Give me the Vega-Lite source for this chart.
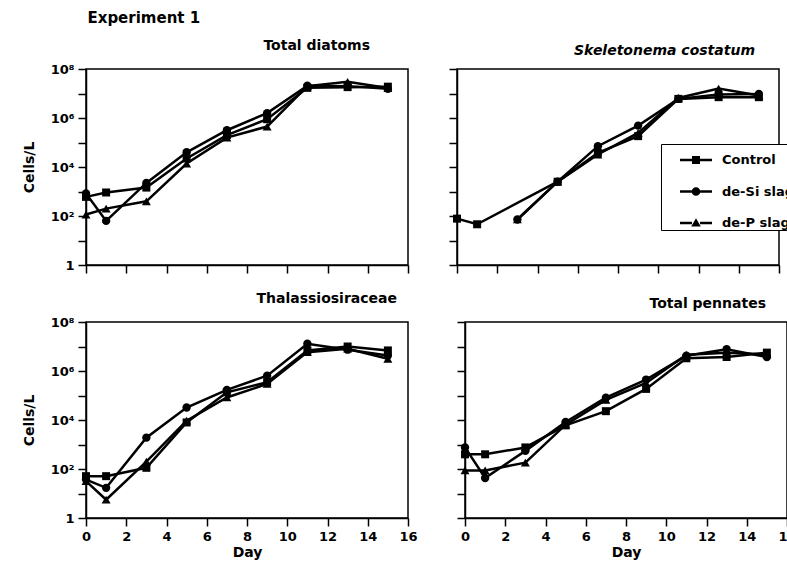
{
  "$schema": "https://vega.github.io/schema/vega-lite/v6.json",
  "background": "white",
  "padding": {"left": 21, "top": 11, "right": 0, "bottom": 0},
  "title": {"text": "Experiment 1", "anchor": "start", "fontSize": 15, "dx": 66, "offset": 12, "frame": "bounds"},
  "datasets": {
    "d": [
      {"p": "TD", "s": "Control", "day": 0, "v": 603},
      {"p": "TD", "s": "Control", "day": 1, "v": 912},
      {"p": "TD", "s": "Control", "day": 3, "v": 1445},
      {"p": "TD", "s": "Control", "day": 5, "v": 22387},
      {"p": "TD", "s": "Control", "day": 7, "v": 199526},
      {"p": "TD", "s": "Control", "day": 9, "v": 891251},
      {"p": "TD", "s": "Control", "day": 11, "v": 1.7e7},
      {"p": "TD", "s": "Control", "day": 13, "v": 1.82e7},
      {"p": "TD", "s": "Control", "day": 15, "v": 1.9e7},
      {"p": "TD", "s": "de-Si slag", "day": 0, "v": 832},
      {"p": "TD", "s": "de-Si slag", "day": 1, "v": 63},
      {"p": "TD", "s": "de-Si slag", "day": 3, "v": 2239},
      {"p": "TD", "s": "de-Si slag", "day": 5, "v": 39811},
      {"p": "TD", "s": "de-Si slag", "day": 7, "v": 316228},
      {"p": "TD", "s": "de-Si slag", "day": 9, "v": 1584893},
      {"p": "TD", "s": "de-Si slag", "day": 11, "v": 2.09e7},
      {"p": "TD", "s": "de-Si slag", "day": 13, "v": 2.0e7},
      {"p": "TD", "s": "de-Si slag", "day": 15, "v": 1.55e7},
      {"p": "TD", "s": "de-P slag", "day": 0, "v": 115},
      {"p": "TD", "s": "de-P slag", "day": 1, "v": 200},
      {"p": "TD", "s": "de-P slag", "day": 3, "v": 398},
      {"p": "TD", "s": "de-P slag", "day": 5, "v": 13804},
      {"p": "TD", "s": "de-P slag", "day": 7, "v": 158489},
      {"p": "TD", "s": "de-P slag", "day": 9, "v": 446684},
      {"p": "TD", "s": "de-P slag", "day": 11, "v": 2.0e7},
      {"p": "TD", "s": "de-P slag", "day": 13, "v": 3.0e7},
      {"p": "TD", "s": "de-P slag", "day": 15, "v": 1.66e7},

      {"p": "SC", "s": "Control", "day": 0, "v": 78},
      {"p": "SC", "s": "Control", "day": 1, "v": 46},
      {"p": "SC", "s": "Control", "day": 5, "v": 2512},
      {"p": "SC", "s": "Control", "day": 7, "v": 38019},
      {"p": "SC", "s": "Control", "day": 9, "v": 181970},
      {"p": "SC", "s": "Control", "day": 11, "v": 6.03e6},
      {"p": "SC", "s": "Control", "day": 13, "v": 7.08e6},
      {"p": "SC", "s": "Control", "day": 15, "v": 7.08e6},
      {"p": "SC", "s": "de-Si slag", "day": 3, "v": 72},
      {"p": "SC", "s": "de-Si slag", "day": 5, "v": 2512},
      {"p": "SC", "s": "de-Si slag", "day": 7, "v": 70795},
      {"p": "SC", "s": "de-Si slag", "day": 9, "v": 489779},
      {"p": "SC", "s": "de-Si slag", "day": 11, "v": 6.03e6},
      {"p": "SC", "s": "de-Si slag", "day": 13, "v": 9.12e6},
      {"p": "SC", "s": "de-Si slag", "day": 15, "v": 9.55e6},
      {"p": "SC", "s": "de-P slag", "day": 3, "v": 72},
      {"p": "SC", "s": "de-P slag", "day": 5, "v": 2512},
      {"p": "SC", "s": "de-P slag", "day": 7, "v": 32359},
      {"p": "SC", "s": "de-P slag", "day": 9, "v": 245471},
      {"p": "SC", "s": "de-P slag", "day": 11, "v": 6.6e6},
      {"p": "SC", "s": "de-P slag", "day": 13, "v": 1.585e7},
      {"p": "SC", "s": "de-P slag", "day": 15, "v": 8.3e6},

      {"p": "TH", "s": "Control", "day": 0, "v": 51},
      {"p": "TH", "s": "Control", "day": 1, "v": 51},
      {"p": "TH", "s": "Control", "day": 3, "v": 112},
      {"p": "TH", "s": "Control", "day": 5, "v": 7943},
      {"p": "TH", "s": "Control", "day": 7, "v": 134896},
      {"p": "TH", "s": "Control", "day": 9, "v": 346737},
      {"p": "TH", "s": "Control", "day": 11, "v": 6.92e6},
      {"p": "TH", "s": "Control", "day": 13, "v": 1.0e7},
      {"p": "TH", "s": "Control", "day": 15, "v": 6.92e6},
      {"p": "TH", "s": "de-Si slag", "day": 0, "v": 37},
      {"p": "TH", "s": "de-Si slag", "day": 1, "v": 17},
      {"p": "TH", "s": "de-Si slag", "day": 3, "v": 1905},
      {"p": "TH", "s": "de-Si slag", "day": 5, "v": 32359},
      {"p": "TH", "s": "de-Si slag", "day": 7, "v": 169824},
      {"p": "TH", "s": "de-Si slag", "day": 9, "v": 645654},
      {"p": "TH", "s": "de-Si slag", "day": 11, "v": 1.29e7},
      {"p": "TH", "s": "de-Si slag", "day": 13, "v": 7.41e6},
      {"p": "TH", "s": "de-Si slag", "day": 15, "v": 4.27e6},
      {"p": "TH", "s": "de-P slag", "day": 0, "v": 32},
      {"p": "TH", "s": "de-P slag", "day": 1, "v": 5.6},
      {"p": "TH", "s": "de-P slag", "day": 3, "v": 200},
      {"p": "TH", "s": "de-P slag", "day": 5, "v": 9333},
      {"p": "TH", "s": "de-P slag", "day": 7, "v": 83176},
      {"p": "TH", "s": "de-P slag", "day": 9, "v": 295121},
      {"p": "TH", "s": "de-P slag", "day": 11, "v": 5.89e6},
      {"p": "TH", "s": "de-P slag", "day": 13, "v": 8.13e6},
      {"p": "TH", "s": "de-P slag", "day": 15, "v": 3.16e6},

      {"p": "TP", "s": "Control", "day": 0, "v": 398},
      {"p": "TP", "s": "Control", "day": 1, "v": 398},
      {"p": "TP", "s": "Control", "day": 3, "v": 759},
      {"p": "TP", "s": "Control", "day": 5, "v": 6026},
      {"p": "TP", "s": "Control", "day": 7, "v": 22909},
      {"p": "TP", "s": "Control", "day": 9, "v": 186209},
      {"p": "TP", "s": "Control", "day": 11, "v": 3.31e6},
      {"p": "TP", "s": "Control", "day": 13, "v": 3.72e6},
      {"p": "TP", "s": "Control", "day": 15, "v": 5.62e6},
      {"p": "TP", "s": "de-Si slag", "day": 0, "v": 759},
      {"p": "TP", "s": "de-Si slag", "day": 1, "v": 43},
      {"p": "TP", "s": "de-Si slag", "day": 3, "v": 550},
      {"p": "TP", "s": "de-Si slag", "day": 5, "v": 8318},
      {"p": "TP", "s": "de-Si slag", "day": 7, "v": 81283},
      {"p": "TP", "s": "de-Si slag", "day": 9, "v": 446684},
      {"p": "TP", "s": "de-Si slag", "day": 11, "v": 4.17e6},
      {"p": "TP", "s": "de-Si slag", "day": 13, "v": 7.76e6},
      {"p": "TP", "s": "de-Si slag", "day": 15, "v": 3.72e6},
      {"p": "TP", "s": "de-P slag", "day": 0, "v": 87},
      {"p": "TP", "s": "de-P slag", "day": 1, "v": 87},
      {"p": "TP", "s": "de-P slag", "day": 3, "v": 182},
      {"p": "TP", "s": "de-P slag", "day": 5, "v": 6457},
      {"p": "TP", "s": "de-P slag", "day": 7, "v": 66069},
      {"p": "TP", "s": "de-P slag", "day": 9, "v": 323594},
      {"p": "TP", "s": "de-P slag", "day": 11, "v": 4.57e6},
      {"p": "TP", "s": "de-P slag", "day": 13, "v": 5.62e6},
      {"p": "TP", "s": "de-P slag", "day": 15, "v": 4.79e6}
    ]
  },
  "data": {"name": "d"},
  "spacing": 16,
  "vconcat": [
    {
      "spacing": 37,
      "hconcat": [
        {
          "width": 322, "height": 196,
          "title": {"text": "Total diatoms", "anchor": "end", "dx": -38, "offset": 10},
          "transform": [{"filter": "datum.p == 'TD'"}],
          "encoding": {
            "x": {"field": "day", "type": "quantitative", "scale": {"domain": [0, 16], "nice": false}, "axis": {"values": [0, 2, 4, 6, 8, 10, 12, 14, 16], "labels": false, "title": null}},
            "y": {"field": "v", "type": "quantitative", "scale": {"type": "log", "domain": [1, 100000000], "nice": false}, "axis": {"values": [1, 10, 100, 1000, 10000, 100000, 1000000, 10000000, 100000000], "labelExpr": "datum.value == 1 ? '1' : datum.value == 100 ? '10²' : datum.value == 10000 ? '10⁴' : datum.value == 1000000 ? '10⁶' : datum.value == 100000000 ? '10⁸' : ''", "title": "Cells/L", "titlePadding": 14}}
          },
          "layer": [
            {"mark": {"type": "line", "color": "black", "strokeWidth": 2.5}, "encoding": {"detail": {"field": "s"}}},
            {"transform": [{"filter": "datum.s == 'Control'"}], "mark": {"type": "point", "shape": "square", "filled": true, "size": 64, "color": "black", "opacity": 1}},
            {"transform": [{"filter": "datum.s == 'de-Si slag'"}], "mark": {"type": "point", "shape": "circle", "filled": true, "size": 70, "color": "black", "opacity": 1}},
            {"transform": [{"filter": "datum.s == 'de-P slag'"}], "mark": {"type": "point", "shape": "triangle-up", "filled": true, "size": 80, "color": "black", "opacity": 1}}
          ]
        },
        {
          "width": 322, "height": 196,
          "title": {"text": "Skeletonema costatum", "anchor": "end", "dx": -24, "offset": 10, "fontStyle": "italic"},
          "transform": [{"filter": "datum.p == 'SC'"}],
          "encoding": {
            "x": {"field": "day", "type": "quantitative", "scale": {"domain": [0, 16], "nice": false}, "axis": {"values": [0, 2, 4, 6, 8, 10, 12, 14, 16], "labels": false, "title": null}},
            "y": {"field": "v", "type": "quantitative", "scale": {"type": "log", "domain": [1, 100000000], "nice": false}, "axis": {"values": [1, 10, 100, 1000, 10000, 100000, 1000000, 10000000, 100000000], "labels": false, "title": null}}
          },
          "layer": [
            {"mark": {"type": "line", "color": "black", "strokeWidth": 2.5}, "encoding": {"detail": {"field": "s"}}},
            {"transform": [{"filter": "datum.s == 'Control'"}], "mark": {"type": "point", "shape": "square", "filled": true, "size": 64, "color": "black", "opacity": 1}},
            {"transform": [{"filter": "datum.s == 'de-Si slag'"}], "mark": {"type": "point", "shape": "circle", "filled": true, "size": 70, "color": "black", "opacity": 1}},
            {"transform": [{"filter": "datum.s == 'de-P slag'"}], "mark": {"type": "point", "shape": "triangle-up", "filled": true, "size": 80, "color": "black", "opacity": 1}},
            {
              "transform": [{"filter": "datum.day < 0"}],
              "mark": {"type": "point", "filled": true, "color": "black", "opacity": 1},
              "encoding": {
                "size": {"value": 1024},
                "shape": {
                  "field": "s", "type": "nominal",
                  "scale": {
                    "domain": ["Control", "de-Si slag", "de-P slag"],
                    "range": [
                      "M-1,-0.08H-0.25V0.08H-1Z M0.25,-0.08H1V0.08H0.25Z M-0.25,-0.25H0.25V0.25H-0.25Z",
                      "M-1,-0.08H-0.25V0.08H-1Z M0.25,-0.08H1V0.08H0.25Z M-0.27,0A0.27,0.27 0 1,1 0.27,0A0.27,0.27 0 1,1 -0.27,0Z",
                      "M-1,-0.08H-0.25V0.08H-1Z M0.25,-0.08H1V0.08H0.25Z M0,-0.3L0.3,0.22L-0.3,0.22Z"
                    ]
                  },
                  "legend": {
                    "orient": "none", "legendX": 575, "legendY": 75,
                    "title": null, "padding": 0, "strokeColor": "black", "fillColor": "white",
                    "symbolSize": 1024, "symbolFillColor": "black", "symbolStrokeWidth": 0, "symbolOffset": 19,
                    "labelFont": "DejaVu Sans", "labelFontWeight": "bold", "labelFontSize": 13, "labelColor": "black",
                    "labelOffset": 10, "rowPadding": 8.5
                  }
                }
              }
            }
          ]
        }
      ]
    },
    {
      "spacing": 37,
      "hconcat": [
        {
          "width": 322, "height": 196,
          "title": {"text": "Thalassiosiraceae", "anchor": "end", "dx": -11, "offset": 10},
          "transform": [{"filter": "datum.p == 'TH'"}],
          "encoding": {
            "x": {"field": "day", "type": "quantitative", "scale": {"domain": [0, 16], "nice": false}, "axis": {"values": [0, 2, 4, 6, 8, 10, 12, 14, 16], "title": "Day", "titlePadding": 2}},
            "y": {"field": "v", "type": "quantitative", "scale": {"type": "log", "domain": [1, 100000000], "nice": false}, "axis": {"values": [1, 10, 100, 1000, 10000, 100000, 1000000, 10000000, 100000000], "labelExpr": "datum.value == 1 ? '1' : datum.value == 100 ? '10²' : datum.value == 10000 ? '10⁴' : datum.value == 1000000 ? '10⁶' : datum.value == 100000000 ? '10⁸' : ''", "title": "Cells/L", "titlePadding": 14}}
          },
          "layer": [
            {"mark": {"type": "line", "color": "black", "strokeWidth": 2.5}, "encoding": {"detail": {"field": "s"}}},
            {"transform": [{"filter": "datum.s == 'Control'"}], "mark": {"type": "point", "shape": "square", "filled": true, "size": 64, "color": "black", "opacity": 1}},
            {"transform": [{"filter": "datum.s == 'de-Si slag'"}], "mark": {"type": "point", "shape": "circle", "filled": true, "size": 70, "color": "black", "opacity": 1}},
            {"transform": [{"filter": "datum.s == 'de-P slag'"}], "mark": {"type": "point", "shape": "triangle-up", "filled": true, "size": 80, "color": "black", "opacity": 1}}
          ]
        },
        {
          "width": 322, "height": 196,
          "title": {"text": "Total pennates", "anchor": "end", "dx": -21, "offset": 10},
          "transform": [{"filter": "datum.p == 'TP'"}],
          "encoding": {
            "x": {"field": "day", "type": "quantitative", "scale": {"domain": [0, 16], "nice": false}, "axis": {"values": [0, 2, 4, 6, 8, 10, 12, 14, 16], "title": "Day", "titlePadding": 2}},
            "y": {"field": "v", "type": "quantitative", "scale": {"type": "log", "domain": [1, 100000000], "nice": false}, "axis": {"values": [1, 10, 100, 1000, 10000, 100000, 1000000, 10000000, 100000000], "labels": false, "title": null}}
          },
          "layer": [
            {"mark": {"type": "line", "color": "black", "strokeWidth": 2.5}, "encoding": {"detail": {"field": "s"}}},
            {"transform": [{"filter": "datum.s == 'Control'"}], "mark": {"type": "point", "shape": "square", "filled": true, "size": 64, "color": "black", "opacity": 1}},
            {"transform": [{"filter": "datum.s == 'de-Si slag'"}], "mark": {"type": "point", "shape": "circle", "filled": true, "size": 70, "color": "black", "opacity": 1}},
            {"transform": [{"filter": "datum.s == 'de-P slag'"}], "mark": {"type": "point", "shape": "triangle-up", "filled": true, "size": 80, "color": "black", "opacity": 1}}
          ]
        }
      ]
    }
  ],
  "config": {
    "font": "DejaVu Sans",
    "view": {"stroke": "black", "strokeWidth": 1.5},
    "axis": {
      "domainColor": "black", "domainWidth": 1.5, "tickColor": "black", "tickWidth": 1.5, "tickSize": 8,
      "labelFont": "DejaVu Sans", "labelFontWeight": "bold", "labelFontSize": 13, "labelColor": "black",
      "titleFont": "DejaVu Sans", "titleFontWeight": "bold", "titleFontSize": 14, "titleColor": "black",
      "grid": false, "labelPadding": 4, "labelFlush": false, "labelOverlap": false
    },
    "title": {"font": "DejaVu Sans", "fontWeight": "bold", "fontSize": 14, "color": "black", "frame": "group"}
  }
}
